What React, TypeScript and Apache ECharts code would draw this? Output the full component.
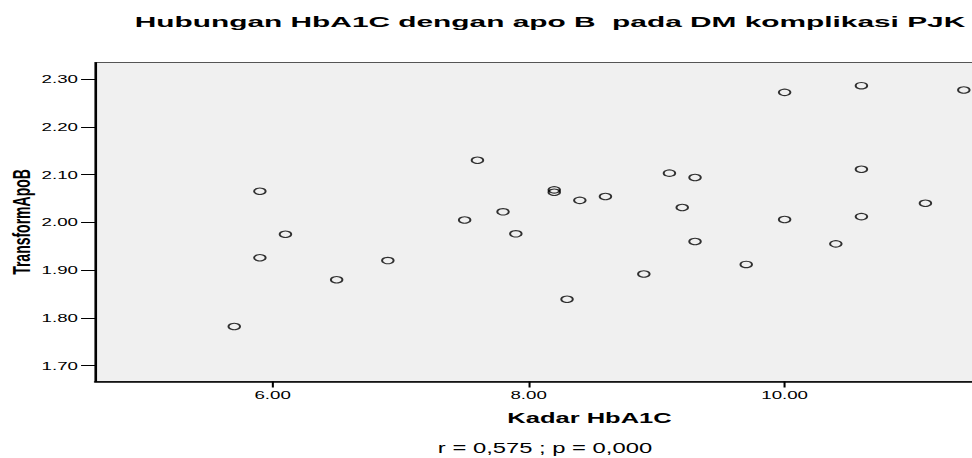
import React, { useEffect, useRef } from "react";
import * as echarts from "echarts";

// The reference chart is stretched horizontally; we draw it narrow and stretch it with CSS.
const S = 1.7;

const hba1c = [
  5.7, 5.9, 5.9, 6.1, 6.5, 6.9, 7.5, 7.6, 7.8, 7.9,
  8.2, 8.2, 8.3, 8.4, 8.6, 8.9, 9.1, 9.2, 9.3, 9.3,
  9.7, 10.0, 10.0, 10.4, 10.6, 10.6, 10.6, 11.1, 11.4,
];
const apoB = [
  1.782, 2.065, 1.926, 1.975, 1.88, 1.92, 2.005, 2.13, 2.022, 1.976,
  2.068, 2.063, 1.839, 2.046, 2.054, 1.892, 2.103, 2.031, 2.094, 1.96,
  1.912, 2.272, 2.006, 1.955, 2.286, 2.111, 2.012, 2.04, 2.277,
];
const xTicks = [6, 8, 10];
const yTicks = [1.7, 1.8, 1.9, 2.0, 2.1, 2.2, 2.3];
const titleText = "Hubungan HbA1C dengan apo B  pada DM komplikasi PJK";
const xName = "Kadar HbA1C";
const yName = "TransformApoB";
const noteText = "r = 0,575 ; p = 0,000";

const FONT = '"Liberation Sans", Arial, Helvetica, sans-serif';

export default function App() {
  const ref = useRef<HTMLDivElement>(null);

  useEffect(() => {
    if (!ref.current) return;
    const chart = echarts.init(ref.current, null, { renderer: "svg" });
    const option = {
      animation: false,
      backgroundColor: "#ffffff",
      textStyle: { fontFamily: FONT },
      grid: {
        left: 95 / S,
        top: 62.5,
        bottom: 76.5,
        width: (1084 - 95) / S,
        containLabel: false,
        outerBoundsMode: "none",
        show: true,
        backgroundColor: "#f0f0f0",
        borderColor: "#555555",
        borderWidth: 1,
      },
      xAxis: {
        type: "value",
        min: 4.612,
        max: 12.339,
        splitLine: { show: false },
        axisLine: { show: true, onZero: false, lineStyle: { color: "#000", width: 1.5 } },
        axisTick: {
          show: true,
          customValues: xTicks,
          length: 6,
          lineStyle: { color: "#000", width: 1.2 },
        },
        axisLabel: {
          customValues: xTicks,
          formatter: (v: number) => v.toFixed(2),
          fontSize: 11,
          color: "#000",
          margin: 8,
          fontFamily: FONT,
        },
        name: xName,
        nameLocation: "middle",
        nameGap: 29,
        nameMoveOverlap: false,
        nameTextStyle: { fontSize: 15, fontWeight: "bold", color: "#000", fontFamily: FONT },
      },
      yAxis: {
        type: "value",
        min: 1.667,
        max: 2.3345,
        splitLine: { show: false },
        axisLine: { show: true, onZero: false, lineStyle: { color: "#000", width: 1.2 } },
        axisTick: {
          show: true,
          customValues: yTicks,
          length: 8.2,
          lineStyle: { color: "#000", width: 1 },
        },
        axisLabel: {
          customValues: yTicks,
          formatter: (v: number) => v.toFixed(2),
          fontSize: 11,
          color: "#000",
          margin: 10,
          fontFamily: FONT,
        },
        name: yName,
        nameLocation: "middle",
        nameRotate: 90,
        nameGap: 36.5,
        nameMoveOverlap: false,
        nameTextStyle: { fontSize: 14, fontWeight: "bold", color: "#000", fontFamily: FONT },
      },
      graphic: [
        {
          type: "text",
          x: 550 / S,
          y: 22,
          scaleX: 1.17,
          silent: true,
          style: {
            text: titleText,
            font: `bold 15px ${FONT}`,
            fill: "#000",
            textAlign: "center",
            textVerticalAlign: "middle",
            align: "center",
            verticalAlign: "middle",
          },
        },
        {
          type: "text",
          x: 545 / S,
          y: 447.5,
          silent: true,
          style: {
            text: noteText,
            font: `14px ${FONT}`,
            fill: "#000",
            textAlign: "center",
            textVerticalAlign: "middle",
            align: "center",
            verticalAlign: "middle",
          },
        },
      ],
      series: [
        {
          type: "scatter",
          data: hba1c.map((x, i) => [x, apoB[i]]),
          symbol: "circle",
          symbolSize: [6.8, 6.4],
          silent: true,
          itemStyle: {
            color: "rgba(0,0,0,0)",
            borderColor: "#000",
            borderWidth: 1.1,
          },
          emphasis: { disabled: true },
        },
      ],
    };
    chart.setOption(option as any);
    return () => chart.dispose();
  }, []);

  return (
    <div
      style={{
        position: "fixed",
        left: 0,
        top: 0,
        width: 972,
        height: 458,
        overflow: "hidden",
        background: "#fff",
      }}
    >
      <div
        ref={ref}
        style={{
          width: 1100 / S,
          height: 458,
          transform: `scaleX(${S})`,
          transformOrigin: "0 0",
        }}
      />
    </div>
  );
}
